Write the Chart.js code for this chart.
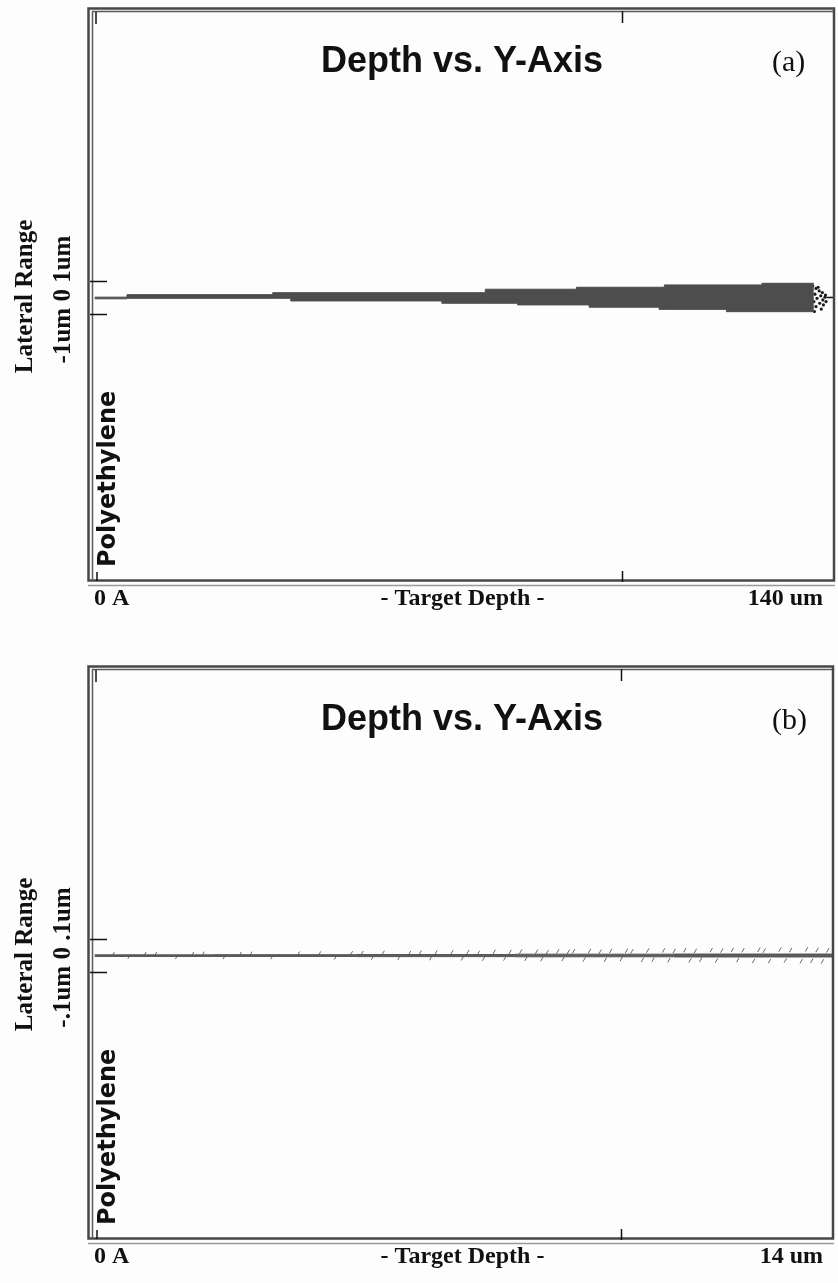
<!DOCTYPE html>
<html>
<head>
<meta charset="utf-8">
<title>Depth vs. Y-Axis</title>
<script src="https://cdn.jsdelivr.net/npm/chart.js@4.4.1/dist/chart.umd.min.js"></script>
<style>
  html, body { margin: 0; padding: 0; background: #fdfdfd; }
  canvas { display: block; }
</style>
</head>
<body>
<canvas id="panelA" width="838" height="658"></canvas>
<canvas id="panelB" width="838" height="625"></canvas>
<script>
// ---- panel (a): 0 A .. 140 um ----
const depthRangeA = [0, 140];
const lateralRangeA = [-17.18, 17.36];
const lateralTickA = 1;   // um, short marks on the left edge
const depthTickA = 100;   // um, marks on the top and bottom edges
const axisLabelsA = ['0 A', '- Target Depth -', '140 um'];
const sideLabelsA = ['Lateral Range', '-1um 0 1um'];

// track envelope, um (stepped)
const trackDepthA = [0.5, 6.6, 34.1, 37.5, 66.0, 74.2, 80.3, 91.4, 93.8, 107.0, 108.0, 119.7, 126.4, 136.2];
const trackUpperA = [0.02, 0.17, 0.29, 0.29, 0.29, 0.50, 0.50, 0.62, 0.62, 0.62, 0.76, 0.76, 0.86, 0.86];
const trackLowerA = [-0.08, -0.05, -0.05, -0.21, -0.35, -0.35, -0.45, -0.45, -0.59, -0.72, -0.72, -0.86, -0.86, -0.86];

// pale streaks inside the track
const streakStartA = [91.4, 108.0, 131.9];
const streakEndA = [96.5, 113.3, 134.8];
const streakLatA = [0.45, 0.59, -0.64];

// end-of-range cluster and the stub to the back face
const endDepthA = [136.0, 136.6, 137.2, 137.8, 136.4, 137.5, 138.3, 136.8, 137.9, 136.2, 137.3, 138.0, 136.6, 137.6, 136.3, 138.4, 138.5, 137.0];
const endLatA = [0.70, 0.55, 0.40, 0.30, 0.20, 0.10, 0.02, -0.05, -0.15, -0.25, -0.35, -0.45, -0.55, -0.70, -0.85, 0.15, -0.25, 0.62];
const stubDepthA = [138.6, 140];

// ---- panel (b): 0 A .. 14 um ----
const depthRangeB = [0, 14];
const lateralRangeB = [-1.718, 1.736];
const lateralTickB = 0.1;
const depthTickB = 10;
const axisLabelsB = ['0 A', '- Target Depth -', '14 um'];
const sideLabelsB = ['Lateral Range', '-.1um 0 .1um'];

const trackDepthB = [0.05, 2.3, 5.0, 8.0, 11.0, 14.0];
const trackUpperB = [0.004, 0.005, 0.006, 0.008, 0.009, 0.009];
const trackLowerB = [-0.006, -0.006, -0.007, -0.008, -0.009, -0.009];

// scattered recoil specks along the track
const specksDepthB = [0.4, 0.7, 1.0, 1.2, 1.6, 1.9, 2.1, 2.5, 2.8, 3.0,
  3.4, 3.9, 4.3, 4.6, 4.9, 5.1, 5.3, 5.5, 5.8, 6.0,
  6.2, 6.4, 6.5, 6.8, 7.0, 7.1, 7.3, 7.4, 7.6, 7.8,
  7.9, 8.1, 8.2, 8.4, 8.5, 8.6, 8.8, 8.9, 9.0, 9.1,
  9.3, 9.4, 9.6, 9.7, 9.8, 10.0, 10.1, 10.2, 10.4, 10.5,
  10.6, 10.8, 10.9, 11.0, 11.2, 11.3, 11.4, 11.5, 11.7, 11.8,
  11.9, 12.1, 12.2, 12.3, 12.5, 12.6, 12.7, 12.8, 13.0, 13.1,
  13.2, 13.4, 13.5, 13.6, 13.7, 13.8, 13.9];
const specksLatB = [0.008, -0.007, 0.009, 0.008, -0.008, 0.009, 0.010, -0.009, 0.009, 0.010,
  -0.010, 0.011, 0.012, -0.012, 0.013, 0.014, -0.013, 0.016, -0.014, 0.015,
  0.017, -0.016, 0.018, 0.019, -0.017, 0.020, 0.016, -0.019, 0.022, -0.018,
  0.021, 0.024, -0.020, 0.023, -0.022, 0.019, 0.025, -0.021, 0.022, 0.026,
  -0.024, 0.027, 0.023, -0.026, 0.028, -0.022, 0.029, 0.025, -0.027, 0.030,
  -0.025, 0.031, -0.029, 0.027, 0.032, -0.030, 0.028, -0.026, 0.033, -0.031,
  0.030, 0.034, -0.028, 0.032, -0.033, 0.035, 0.029, -0.034, 0.036, -0.030,
  0.033, -0.035, 0.037, -0.032, 0.034, -0.036, 0.031];

const TRACK = '#4d4d4d';
const INK = '#111111';

const pts = (xs, ys) => xs.map((x, i) => ({ x: x, y: ys[i] }));

// frame, edge ticks and all the text of one panel
const srimFrame = {
  id: 'srimFrame',
  afterDraw(chart, args, o) {
    const ctx = chart.ctx;
    const a = chart.chartArea;
    const xs = chart.scales.x, ys = chart.scales.y;
    ctx.save();

    // double border
    ctx.strokeStyle = '#474747';
    ctx.lineWidth = 2.5;
    ctx.strokeRect(a.left - 3.5, a.top - 2.5, a.right - a.left + 3.5, a.bottom - a.top + 2);
    ctx.strokeStyle = '#5a5a5a';
    ctx.lineWidth = 1.5;
    ctx.beginPath();
    ctx.moveTo(a.left + 0.5, a.bottom); ctx.lineTo(a.left + 0.5, a.top + 0.5); ctx.lineTo(a.right - 1, a.top + 0.5);
    ctx.stroke();
    ctx.strokeStyle = '#9a9a9a';
    ctx.beginPath();
    ctx.moveTo(a.left - 4, a.bottom + 4.5); ctx.lineTo(a.right + 1, a.bottom + 4.5);
    ctx.stroke();

    // edge ticks
    ctx.strokeStyle = INK;
    ctx.lineWidth = 1.5;
    const xt = Math.round(xs.getPixelForValue(o.depthTick)) + 0.5;
    ctx.beginPath();
    ctx.moveTo(xt, a.top); ctx.lineTo(xt, a.top + 12);
    ctx.moveTo(xt, a.bottom + 1); ctx.lineTo(xt, a.bottom - 10);
    ctx.moveTo(a.left + 4, a.top + 1); ctx.lineTo(a.left + 4, a.top + 13);
    ctx.moveTo(a.left + 5, a.bottom); ctx.lineTo(a.left + 5, a.bottom - 9);
    [o.lateralTick, -o.lateralTick].forEach(v => {
      const y = Math.round(ys.getPixelForValue(v)) + 0.5;
      ctx.moveTo(a.left - 2, y); ctx.lineTo(a.left + 15, y);
    });
    ctx.stroke();

    ctx.fillStyle = INK;
    // title and panel tag
    ctx.font = 'bold 36px "Liberation Sans", Arial, sans-serif';
    ctx.textAlign = 'center';
    ctx.textBaseline = 'alphabetic';
    ctx.fillText('Depth vs. Y-Axis', 462, a.top + 61);
    ctx.font = '30px "Liberation Serif", "Times New Roman", serif';
    ctx.textAlign = 'left';
    ctx.fillText(o.tag, 772, a.top + 60);

    // depth axis labels
    ctx.font = 'bold 24px "Liberation Serif", "Times New Roman", serif';
    const yb = a.bottom + 24;
    ctx.textAlign = 'left';
    ctx.fillText(o.axis[0], 94, yb);
    ctx.textAlign = 'center';
    ctx.fillText(o.axis[1], 462.5, yb);
    ctx.textAlign = 'right';
    ctx.fillText(o.axis[2], 823, yb);

    // rotated side labels
    const yc = ys.getPixelForValue(0);
    ctx.save();
    ctx.translate(32, yc - 1);
    ctx.rotate(-Math.PI / 2);
    ctx.textAlign = 'center';
    ctx.font = 'bold 25px "Liberation Serif", "Times New Roman", serif';
    ctx.fillText(o.side[0], 0, 0);
    ctx.restore();
    ctx.save();
    ctx.translate(70, yc + 2);
    ctx.rotate(-Math.PI / 2);
    ctx.textAlign = 'center';
    ctx.font = 'bold 25px "Liberation Serif", "Times New Roman", serif';
    ctx.fillText(o.side[1], 0, 0);
    ctx.restore();

    // target material
    ctx.save();
    ctx.translate(115, a.bottom - 14);
    ctx.rotate(-Math.PI / 2);
    ctx.textAlign = 'left';
    ctx.font = 'bold 24px "DejaVu Sans", sans-serif';
    ctx.fillText('Polyethylene', 0, 0);
    ctx.restore();

    ctx.restore();
  }
};

function makePanel(id, cfg) {
  const area = { left: 92, right: 3, top: 11, bottom: cfg.height - 581 };
  return new Chart(document.getElementById(id), {
    type: 'line',
    data: { datasets: cfg.datasets },
    options: {
      responsive: false,
      animation: false,
      devicePixelRatio: 1,
      events: [],
      layout: { padding: area },
      plugins: {
        legend: { display: false },
        tooltip: { enabled: false },
        srimFrame: cfg.frame
      },
      scales: {
        x: { type: 'linear', display: false, min: cfg.depth[0], max: cfg.depth[1] },
        y: { type: 'linear', display: false, min: cfg.lateral[0], max: cfg.lateral[1] }
      },
      elements: { point: { radius: 0 } }
    },
    plugins: [srimFrame]
  });
}

const streakData = [];
streakStartA.forEach((s, i) => {
  streakData.push({ x: s, y: streakLatA[i] }, { x: streakEndA[i], y: streakLatA[i] }, { x: streakEndA[i] + 0.01, y: null });
});

makePanel('panelA', {
  height: 658,
  depth: depthRangeA,
  lateral: lateralRangeA,
  frame: { tag: '(a)', axis: axisLabelsA, side: sideLabelsA, lateralTick: lateralTickA, depthTick: depthTickA },
  datasets: [
    { data: pts(trackDepthA, trackUpperA), stepped: true, fill: '+1', backgroundColor: TRACK, borderColor: TRACK, borderWidth: 1 },
    { data: pts(trackDepthA, trackLowerA), stepped: true, fill: false, borderColor: TRACK, borderWidth: 1 },
    { data: streakData, borderColor: '#f2f2f2', borderWidth: 1.5, spanGaps: false, fill: false },
    { data: pts(stubDepthA, [0, 0]), borderColor: INK, borderWidth: 1.5, fill: false },
    { data: pts(endDepthA, endLatA), showLine: false, pointRadius: 1.6, pointBackgroundColor: '#1a1a1a', pointBorderWidth: 0 }
  ]
});

makePanel('panelB', {
  height: 625,
  depth: depthRangeB,
  lateral: lateralRangeB,
  frame: { tag: '(b)', axis: axisLabelsB, side: sideLabelsB, lateralTick: lateralTickB, depthTick: depthTickB },
  datasets: [
    { data: pts(trackDepthB, trackUpperB), stepped: true, fill: '+1', backgroundColor: '#5a5a5a', borderColor: '#5a5a5a', borderWidth: 1 },
    { data: pts(trackDepthB, trackLowerB), stepped: true, fill: false, borderColor: '#5a5a5a', borderWidth: 1 },
    { data: pts(specksDepthB, specksLatB), showLine: false, pointStyle: 'line', pointRadius: 2.5, pointRotation: -60, pointBorderColor: '#666', pointBorderWidth: 1 }
  ]
});
</script>
</body>
</html>
